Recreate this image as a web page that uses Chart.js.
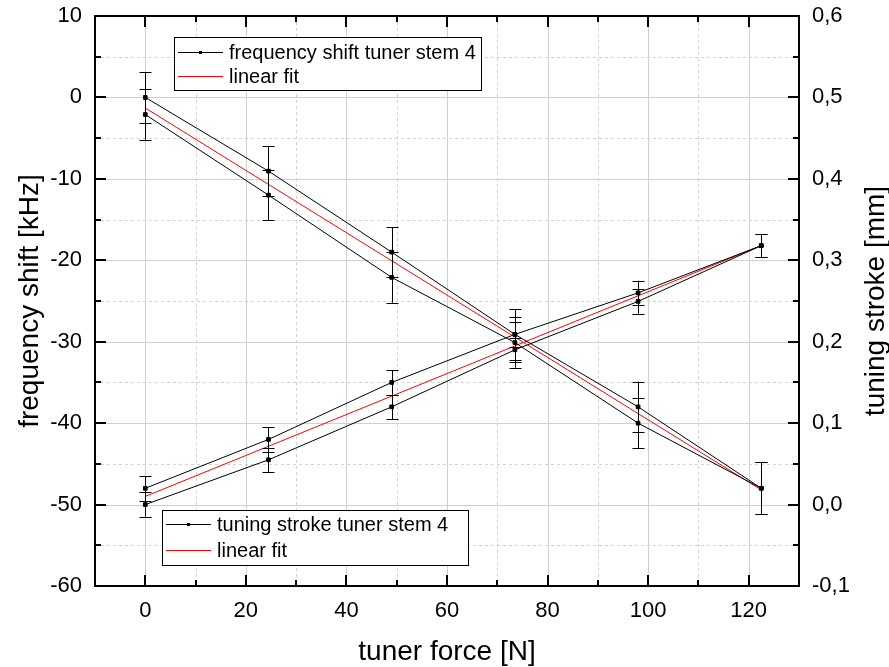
<!DOCTYPE html>
<html>
<head>
<meta charset="utf-8">
<script src="https://cdn.jsdelivr.net/npm/chart.js@4"></script>
<style>
  html, body { margin: 0; padding: 0; background: #fff; }
  #wrap { width: 889px; height: 667px; }
</style>
</head>
<body>
<div id="wrap"><canvas id="myChart"></canvas></div>
<script>
// measured points (tuner force in N), up and down runs
const force = [0, 24.5, 49, 73.5, 98, 122.5];
const freqUp = [0, -9.05, -19, -29.1, -38, -48];
const freqDown = [-2.1, -12, -22.1, -30.1, -40, -48];
const freqErr = [3.1, 3.1, 3.1, 3.1, 3.1, 3.2];
const strokeUp = [0.02, 0.08, 0.15, 0.209, 0.26, 0.318];
const strokeDown = [0.0, 0.055, 0.12, 0.19, 0.2495, 0.318];
const strokeErr = [0.015, 0.015, 0.015, 0.015, 0.015, 0.014];

// linear fits, end points
const fitForce = [0, 122.5];
const freqFit = [-1.3, -48.2];
const strokeFit = [0.010, 0.318];

const forceTicks = [0, 20, 40, 60, 80, 100, 120];
const freqTicks = [-60, -50, -40, -30, -20, -10, 0, 10];
const strokeTicks = [-0.1, 0, 0.1, 0.2, 0.3, 0.4, 0.5, 0.6];

const FONT = "'Liberation Sans', Arial, sans-serif";
const RED = 'rgb(255, 0, 0)';

function toPoints(xs, ys) {
    return xs.map((x, i) => ({ x: x, y: ys[i] }));
}

function midpoints(ticks) {
    const out = [];
    for (let i = 0; i < ticks.length - 1; i++) out.push((ticks[i] + ticks[i + 1]) / 2);
    return out;
}

function dataSet(label, xs, ys, axis, errors) {
    return {
        label: label,
        data: toPoints(xs, ys),
        yAxisID: axis,
        errors: errors,
        showLine: true,
        borderColor: '#000',
        borderWidth: 1,
        pointStyle: 'rect',
        pointRadius: 2.6,
        pointBackgroundColor: '#000',
        pointBorderColor: '#000',
        pointBorderWidth: 1,
    };
}

function fitSet(label, xs, ys, axis) {
    return {
        label: label,
        data: toPoints(xs, ys),
        yAxisID: axis,
        showLine: true,
        borderColor: RED,
        borderWidth: 1,
        pointRadius: 0,
    };
}

const px = v => Math.round(v) + 0.5;

// grid lines with dashed minor lines, drawn under the data
const gridPlugin = {
    id: 'gridPlugin',
    beforeDatasetsDraw(chart) {
        const { ctx, chartArea: a, scales } = chart;
        ctx.save();
        ctx.lineWidth = 1;
        const vLine = (x) => { ctx.beginPath(); ctx.moveTo(px(x), a.top); ctx.lineTo(px(x), a.bottom); ctx.stroke(); };
        const hLine = (y) => { ctx.beginPath(); ctx.moveTo(a.left, px(y)); ctx.lineTo(a.right, px(y)); ctx.stroke(); };

        ctx.strokeStyle = '#d2d2d2';
        ctx.setLineDash([3, 3]);
        midpoints(forceTicks).forEach(v => vLine(scales.x.getPixelForValue(v)));
        midpoints(freqTicks).forEach(v => hLine(scales.y.getPixelForValue(v)));

        ctx.strokeStyle = '#d0d0d0';
        ctx.setLineDash([]);
        forceTicks.forEach(v => vLine(scales.x.getPixelForValue(v)));
        freqTicks.forEach(v => {
            const y = scales.y.getPixelForValue(v);
            if (y > a.top + 1 && y < a.bottom - 1) hLine(y);
        });
        ctx.restore();
    },
    afterDraw(chart) {
        const { ctx, chartArea: a, scales } = chart;
        ctx.save();
        ctx.strokeStyle = '#000';
        ctx.lineWidth = 2;
        ctx.strokeRect(a.left, a.top, a.right - a.left, a.bottom - a.top);

        const tick = (x1, y1, x2, y2) => { ctx.beginPath(); ctx.moveTo(x1, y1); ctx.lineTo(x2, y2); ctx.stroke(); };
        const xTicks = (vals, len) => vals.forEach(v => {
            const x = Math.round(scales.x.getPixelForValue(v));
            tick(x, a.bottom, x, a.bottom - len);
            tick(x, a.top, x, a.top + len);
        });
        const yTicks = (scale, vals, len, side) => vals.forEach(v => {
            const y = Math.round(scale.getPixelForValue(v));
            if (side === 'left') tick(a.left, y, a.left + len, y);
            else tick(a.right, y, a.right - len, y);
        });
        xTicks(forceTicks, 11);
        xTicks(midpoints(forceTicks), 6);
        yTicks(scales.y, freqTicks, 11, 'left');
        yTicks(scales.y, midpoints(freqTicks), 6, 'left');
        yTicks(scales.y1, strokeTicks, 11, 'right');
        yTicks(scales.y1, midpoints(strokeTicks), 6, 'right');
        ctx.restore();
    }
};

// vertical error bars with caps
const errorBars = {
    id: 'errorBars',
    afterDatasetsDraw(chart) {
        const ctx = chart.ctx;
        ctx.save();
        ctx.strokeStyle = '#000';
        ctx.lineWidth = 1;
        chart.data.datasets.forEach((ds, i) => {
            if (!ds.errors) return;
            const meta = chart.getDatasetMeta(i);
            const scale = chart.scales[ds.yAxisID];
            meta.data.forEach((pt, j) => {
                const v = ds.data[j].y, e = ds.errors[j];
                const x = px(pt.x);
                const t = scale.getPixelForValue(v + e);
                const b = scale.getPixelForValue(v - e);
                ctx.beginPath();
                ctx.moveTo(x, t); ctx.lineTo(x, b);
                ctx.moveTo(x - 6, px(t)); ctx.lineTo(x + 6, px(t));
                ctx.moveTo(x - 6, px(b)); ctx.lineTo(x + 6, px(b));
                ctx.stroke();
            });
        });
        ctx.restore();
    }
};

// two legend boxes inside the plot area
const boxLegend = {
    id: 'boxLegend',
    afterDraw(chart, args, opts) {
        const ctx = chart.ctx;
        ctx.save();
        opts.boxes.forEach(box => {
            ctx.fillStyle = '#fff';
            ctx.fillRect(box.x, box.y, box.w, box.h);
            ctx.strokeStyle = '#000';
            ctx.lineWidth = 1;
            ctx.strokeRect(box.x + 0.5, box.y + 0.5, box.w, box.h);
            box.items.forEach((idx, r) => {
                const ds = chart.data.datasets[idx];
                const y = Math.round(box.y + box.rowTop + r * box.rowH);
                const isFit = !(ds.pointRadius > 0);
                ctx.fillStyle = isFit ? RED : '#000';
                ctx.fillRect(box.x + 4, y, 45, 1);
                if (!isFit) ctx.fillRect(box.x + 25, y - 1, 3, 3);
                ctx.fillStyle = '#000';
                ctx.font = '20px ' + FONT;
                ctx.textBaseline = 'middle';
                ctx.textAlign = 'left';
                ctx.fillText(ds.label, box.x + 55, y + 1);
            });
        });
        ctx.restore();
    }
};

// axis titles (right one reads bottom to top)
const axisTitles = {
    id: 'axisTitles',
    afterDraw(chart) {
        const { ctx, chartArea: a } = chart;
        const midY = (a.top + a.bottom) / 2;
        const put = (text, x, y, rot) => {
            ctx.save();
            ctx.fillStyle = '#000';
            ctx.font = '28px ' + FONT;
            ctx.textAlign = 'center';
            ctx.textBaseline = 'middle';
            ctx.translate(x, y);
            ctx.rotate(rot);
            ctx.fillText(text, 0, 0);
            ctx.restore();
        };
        put('tuner force [N]', (a.left + a.right) / 2, 652, 0);
        put('frequency shift [kHz]', 30, midY, -Math.PI / 2);
        put('tuning stroke [mm]', 876, midY, -Math.PI / 2);
    }
};

const tickFont = { family: FONT, size: 22 };

const ctx = document.getElementById('myChart').getContext('2d');
new Chart(ctx, {
    type: 'scatter',
    data: {
        datasets: [
            dataSet('frequency shift tuner stem 4', force, freqUp, 'y', freqErr),
            dataSet('frequency shift tuner stem 4', force, freqDown, 'y', freqErr),
            fitSet('linear fit', fitForce, freqFit, 'y'),
            dataSet('tuning stroke tuner stem 4', force, strokeUp, 'y1', strokeErr),
            dataSet('tuning stroke tuner stem 4', force, strokeDown, 'y1', strokeErr),
            fitSet('linear fit', fitForce, strokeFit, 'y1'),
        ],
    },
    options: {
        responsive: true,
        maintainAspectRatio: false,
        animation: false,
        layout: { padding: { top: 16, left: 0, right: 0, bottom: 0 } },
        plugins: {
            legend: { display: false },
            tooltip: { enabled: false },
            boxLegend: {
                boxes: [
                    { x: 174, y: 37, w: 307, h: 53, rowTop: 15, rowH: 23.5, items: [0, 2] },
                    { x: 162, y: 510, w: 306, h: 55, rowTop: 14, rowH: 26, items: [3, 5] },
                ],
            },
        },
        scales: {
            x: {
                type: 'linear',
                min: -10,
                max: 130,
                afterBuildTicks: s => { s.ticks = forceTicks.map(v => ({ value: v })); },
                afterFit: s => { s.height = 81; s.paddingLeft = 0; s.paddingRight = 0; },
                grid: { display: false, drawTicks: false },
                border: { display: false },
                ticks: { font: tickFont, color: '#000', padding: 12, maxRotation: 0 },
            },
            y: {
                position: 'left',
                min: -60,
                max: 10,
                afterBuildTicks: s => { s.ticks = freqTicks.map(v => ({ value: v })); },
                afterFit: s => { s.width = 95; s.paddingTop = 0; s.paddingBottom = 0; },
                grid: { display: false, drawTicks: false },
                border: { display: false },
                ticks: { font: tickFont, color: '#000', padding: 13 },
            },
            y1: {
                position: 'right',
                min: -0.1,
                max: 0.6,
                afterBuildTicks: s => { s.ticks = strokeTicks.map(v => ({ value: v })); },
                afterFit: s => { s.width = 90; s.paddingTop = 0; s.paddingBottom = 0; },
                grid: { display: false, drawTicks: false },
                border: { display: false },
                ticks: {
                    font: tickFont,
                    color: '#000',
                    padding: 13,
                    callback: v => v.toFixed(1).replace('.', ','),
                },
            },
        },
    },
    plugins: [gridPlugin, errorBars, boxLegend, axisTitles],
});
</script>
</body>
</html>
